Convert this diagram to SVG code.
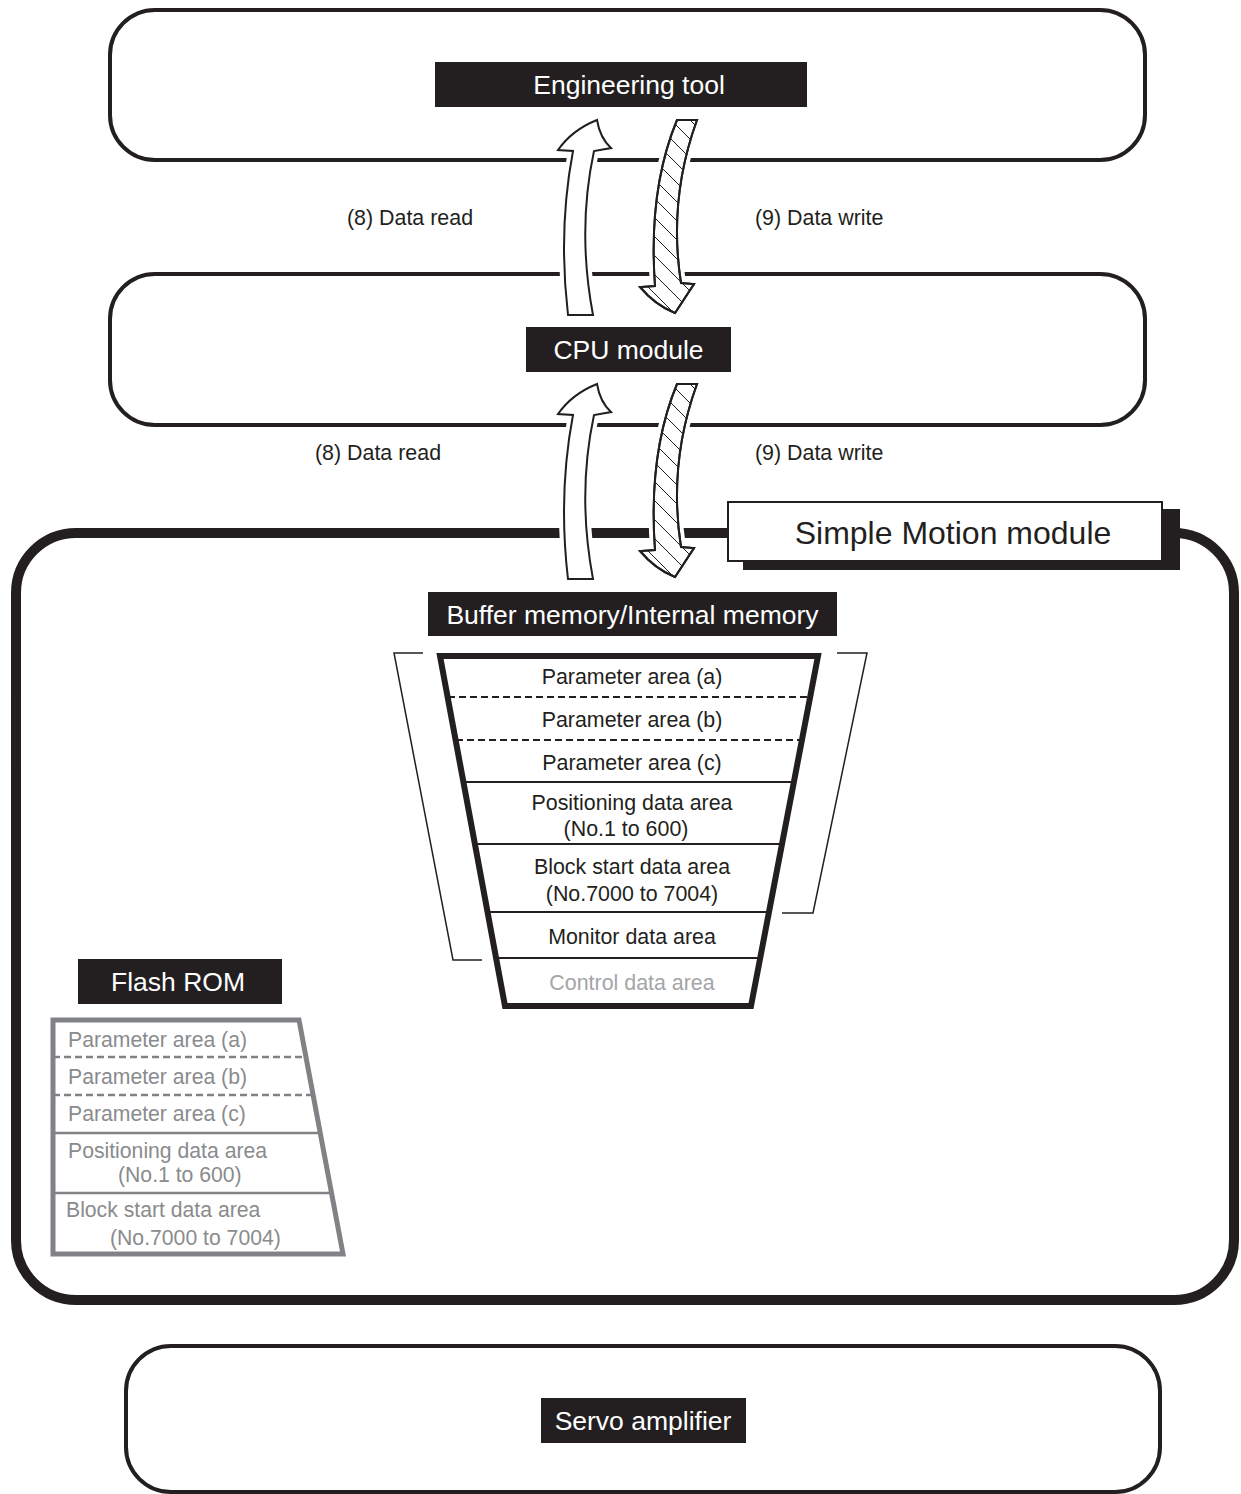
<svg xmlns="http://www.w3.org/2000/svg" width="1241" height="1494" viewBox="0 0 1241 1494">
<style>
.frame{fill:none;stroke:#231f20;stroke-width:4}
.lbl{fill:#231f20}
.lt{font-family:"Liberation Sans",Arial,sans-serif;font-size:26.5px;fill:#fff;text-anchor:middle}
.t{font-family:"Liberation Sans",Arial,sans-serif;font-size:21.4px;fill:#231f20}
.c{text-anchor:middle}
.g{font-family:"Liberation Sans",Arial,sans-serif;font-size:21.2px;fill:#898b8d}
.halo{fill:#fff;stroke:#fff;stroke-width:10;stroke-linejoin:round}
.arw{stroke:#231f20;stroke-width:2;stroke-linejoin:miter}
.bl{stroke:#231f20;stroke-width:2;fill:none}
.dash{stroke:#231f20;stroke-width:2;stroke-dasharray:7 4;fill:none}
.gl{stroke:#808285;stroke-width:2.5;fill:none}
.gdash{stroke:#808285;stroke-width:2.5;stroke-dasharray:7 4;fill:none}
.br{stroke:#231f20;stroke-width:1.5;fill:none}
</style>
<defs>
<pattern id="hatch" patternUnits="userSpaceOnUse" width="19" height="19">
<path d="M-9.5,-9.5 L28.5,28.5 M-9.5,9.5 L9.5,28.5 M9.5,-9.5 L28.5,9.5" stroke="#231f20" stroke-width="1"/>
</pattern>
<path id="up" d="M597,120 Q572,130 558,150 L573,151 Q558,230 568,315 L593,315 Q577,230 594,151 L611,148 Q600,138 597,120 Z"/>
<path id="down" d="M677,120 L697,120 Q668,200 681,283 L694,284 L675,313 Q655,305 640,287 L655,286 Q648,190 677,120 Z"/>
</defs>
<rect width="1241" height="1494" fill="#fff"/>

<g id="engineering-tool">
<rect class="frame" x="110" y="10" width="1035" height="150" rx="45"/>
<rect class="lbl" x="435" y="62" width="372" height="45"/>
<text class="lt" x="629" y="94">Engineering tool</text>
</g>

<g id="cpu-module">
<rect class="frame" x="110" y="274" width="1035" height="151" rx="45"/>
</g>

<g id="simple-motion-module">
<rect fill="none" stroke="#231f20" stroke-width="10" x="16" y="533" width="1218" height="767" rx="60"/>
</g>

<g id="servo-amplifier">
<rect class="frame" x="126" y="1346" width="1034" height="146" rx="45"/>
<rect class="lbl" x="541" y="1398" width="205" height="45"/>
<text class="lt" x="643" y="1430">Servo amplifier</text>
</g>

<g id="connectors">
<use href="#up" class="halo"/>
<use href="#up" class="arw" fill="#fff"/>
<use href="#down" class="halo"/>
<use href="#down" class="arw" fill="#fff"/>
<use href="#down" class="arw" fill="url(#hatch)"/>
<g transform="translate(0,264)">
<use href="#up" class="halo"/>
<use href="#up" class="arw" fill="#fff"/>
<use href="#down" class="halo"/>
<use href="#down" class="arw" fill="#fff"/>
<use href="#down" class="arw" fill="url(#hatch)"/>
</g>
<text class="t" x="347" y="225">(8) Data read</text>
<text class="t" x="755" y="225">(9) Data write</text>
<text class="t" x="315" y="460">(8) Data read</text>
<text class="t" x="755" y="460">(9) Data write</text>
</g>

<g id="cpu-module-label">
<rect class="lbl" x="526" y="327" width="205" height="45"/>
<text class="lt" x="628.5" y="359">CPU module</text>
</g>

<g id="simple-motion-label">
<rect fill="#231f20" x="743" y="509" width="437" height="61"/>
<rect fill="#fff" stroke="#231f20" stroke-width="2" x="728" y="502" width="434" height="59"/>
<text x="953" y="544" font-family="Liberation Sans, Arial, sans-serif" font-size="32" fill="#231f20" text-anchor="middle">Simple Motion module</text>
</g>

<g id="buffer-memory">
<rect class="lbl" x="428" y="592" width="409" height="44"/>
<text class="lt" x="632.5" y="624">Buffer memory/Internal memory</text>
<polyline class="br" points="423,653 394,653 453,960 482,960"/>
<polyline class="br" points="837,653 867,653 813,913 782,913"/>
<line class="dash" x1="448" y1="697" x2="810" y2="697"/>
<line class="dash" x1="456" y1="740" x2="802" y2="740"/>
<line class="bl" x1="463" y1="782" x2="794" y2="782"/>
<line class="bl" x1="475" y1="844" x2="782" y2="844"/>
<line class="bl" x1="487" y1="912" x2="769" y2="912"/>
<line class="bl" x1="496" y1="958" x2="760" y2="958"/>
<polygon points="440,656 818,656 751,1006 505,1006" fill="none" stroke="#231f20" stroke-width="6" stroke-linejoin="miter"/>
<text class="t c" x="632" y="684">Parameter area (a)</text>
<text class="t c" x="632" y="727">Parameter area (b)</text>
<text class="t c" x="632" y="770">Parameter area (c)</text>
<text class="t c" x="632" y="810">Positioning data area</text>
<text class="t c" x="626" y="836">(No.1 to 600)</text>
<text class="t c" x="632" y="874">Block start data area</text>
<text class="t c" x="632" y="901">(No.7000 to 7004)</text>
<text class="t c" x="632" y="944">Monitor data area</text>
<text class="t c" x="632" y="990" style="fill:#a3a5a7">Control data area</text>
</g>

<g id="flash-rom">
<rect class="lbl" x="78" y="959" width="204" height="45"/>
<text class="lt" x="178" y="991">Flash ROM</text>
<line class="gdash" x1="53" y1="1057" x2="306" y2="1057"/>
<line class="gdash" x1="53" y1="1095" x2="313" y2="1095"/>
<line class="gl" x1="53" y1="1133" x2="320" y2="1133"/>
<line class="gl" x1="53" y1="1193" x2="331" y2="1193"/>
<polygon points="53,1020 299,1020 343,1254 53,1254" fill="none" stroke="#808285" stroke-width="5"/>
<text class="g" x="68" y="1047">Parameter area (a)</text>
<text class="g" x="68" y="1084">Parameter area (b)</text>
<text class="g" x="68" y="1121">Parameter area (c)</text>
<text class="g" x="68" y="1158">Positioning data area</text>
<text class="g" x="118" y="1182">(No.1 to 600)</text>
<text class="g" x="66" y="1217">Block start data area</text>
<text class="g" x="110" y="1245">(No.7000 to 7004)</text>
</g>
</svg>
